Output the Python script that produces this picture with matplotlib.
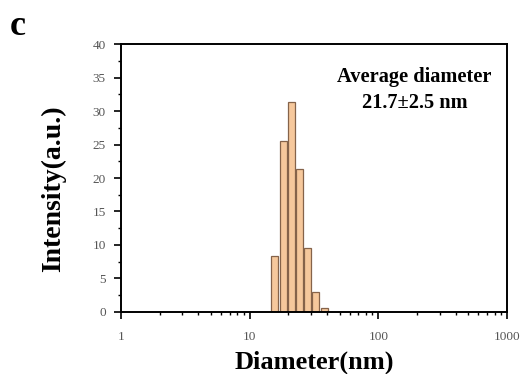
import numpy as np
import matplotlib.pyplot as plt
from matplotlib.ticker import LogLocator, MultipleLocator, FixedLocator

diameter = [15.7, 18.2, 21.2, 24.5, 28.2, 32.7, 37.9]   # bin centres, nm
intensity = [8.3, 25.6, 31.4, 21.4, 9.6, 3.0, 0.6]
xticks = [1, 10, 100, 1000]
xticklabels = ['1', '10', '100', '1000']
yticks = [0, 5, 10, 15, 20, 25, 30, 35, 40]

plt.rcParams['font.family'] = ['Liberation Serif', 'DejaVu Serif']

fig = plt.figure(figsize=(5.27, 3.74), dpi=100)
ax = fig.add_axes([0.2296, 0.166, 0.7324, 0.716])

half = 1.066
left = [d / half for d in diameter]
width = [d * half - d / half for d in diameter]
ax.bar(left, intensity, width=width, align='edge',
       color='#f6c89c', edgecolor='#85634a', linewidth=0.9)

ax.set_xscale('log')
ax.set_xlim(1, 1000)
ax.set_ylim(0, 40)
ax.xaxis.set_major_locator(FixedLocator(xticks))
ax.set_xticklabels(xticklabels)
ax.xaxis.set_minor_locator(LogLocator(base=10, subs=np.arange(2, 10)))
ax.xaxis.set_minor_formatter(plt.NullFormatter())
ax.set_yticks(yticks)
ax.yaxis.set_minor_locator(MultipleLocator(2.5))

ax.tick_params(which='major', direction='out', length=5, width=1.2,
               labelsize=9.5, labelcolor='#555555')
ax.tick_params(axis='x', which='major', pad=8.5)
ax.tick_params(axis='y', which='major', pad=6)
ax.tick_params(which='minor', direction='out', length=2.5, width=1.0)
for s in ax.spines.values():
    s.set_linewidth(1.4)

ax.set_xlabel('Diameter(nm)', fontsize=19, fontweight='bold', labelpad=6)
ax.set_ylabel('Intensity(a.u.)', fontsize=20, fontweight='bold')
ax.yaxis.set_label_coords(-0.142, 0.46)

ax.text(0.76, 0.83, 'Average diameter\n21.7\u00b12.5 nm', transform=ax.transAxes,
        ha='center', va='center', fontsize=14.7, fontweight='bold',
        linespacing=1.4)

fig.text(0.019, 0.906, 'c', fontsize=26, fontweight='bold', ha='left', va='baseline')

fig.savefig('out.png', dpi=100)
